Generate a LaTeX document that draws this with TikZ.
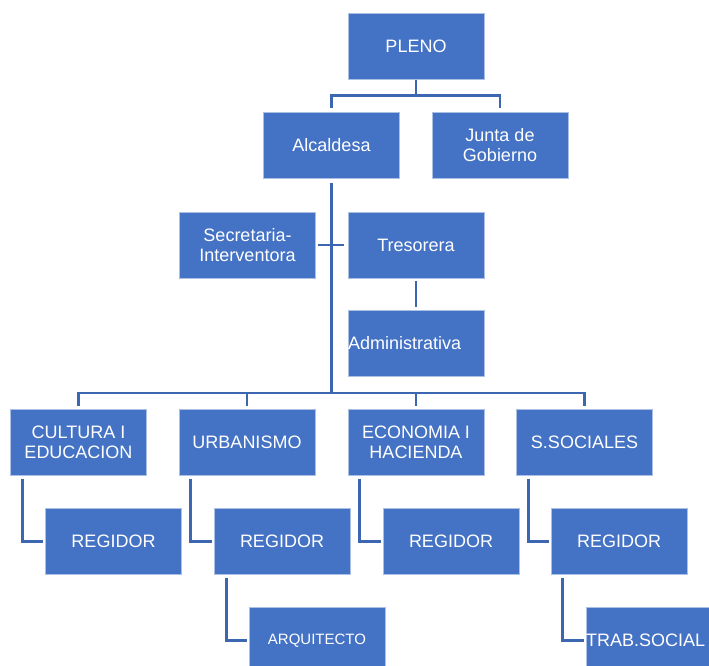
\documentclass[tikz,border=0pt]{standalone}
\usepackage{fontspec}
\setmainfont{Liberation Sans}
\definecolor{boxblue}{HTML}{4472C4}
\definecolor{linecol}{HTML}{3D66B2}
\tikzset{
  box/.style={fill=boxblue, draw=white!55!boxblue, line width=0.8pt, text=white,
    minimum width=136pt, minimum height=66pt, inner sep=1pt, align=center,
    font=\fontsize{18}{20}\selectfont},
  leftbox/.style={box, text width=136pt, inner xsep=0pt, align=left},
  conn/.style={draw=linecol, line width=2.8pt},
}
\begin{document}
\begin{tikzpicture}[x=1pt,y=-1pt]
\useasboundingbox (0,0) rectangle (709,666);
\clip (0,0) rectangle (709,666);
\fill[white] (0,0) rectangle (709,666);

\node[box] (pleno) at (416,46) {PLENO};
\node[box] (alc) at (331.5,145.5) {Alcaldesa};
\node[box] (junta) at (500,145.5) {Junta de\\Gobierno};
\node[box] (sec) at (247.5,245) {Secretaria-\\Interventora};
\node[box] (tres) at (416,245) {Tresorera};
\node[leftbox] (adm) at (416,343.5) {Administrativa};

\node[box] (cult) at (78.5,442.5) {CULTURA I\\EDUCACION};
\node[box] (urb) at (247,442.5) {URBANISMO};
\node[box] (eco) at (416,442.5) {ECONOMIA I\\HACIENDA};
\node[box] (soc) at (584.5,442.5) {S.SOCIALES};

\node[box] (r1) at (113.5,541.5) {REGIDOR};
\node[box] (r2) at (282,541.5) {REGIDOR};
\node[box] (r3) at (451,541.5) {REGIDOR};
\node[box] (r4) at (619,541.5) {REGIDOR};

\node[box, font=\fontsize{15}{18}\selectfont] (arq) at (317,640.5) {ARQUITECTO};
\node[leftbox] (trab) at (654,640.5) {TRAB.SOCIAL};

\coordinate (bus) at (331.5,393);

% PLENO to level 2
\draw[conn, shorten <=1pt, shorten >=4pt] (pleno.south) -- ++(0,16) -| (alc.north);
\draw[conn, shorten <=1pt, shorten >=4pt] (pleno.south) -- ++(0,16) -| (junta.north);

% trunk
\draw[conn, shorten <=4pt] (alc.south) -- (bus);
\draw[conn, shorten <=2pt, shorten >=4pt] (sec.east) -- (tres.west);
\draw[conn, shorten <=3pt, shorten >=3pt] (tres.south) -- (adm.north);

% bus to departments
\draw[conn, shorten >=3pt] (bus) -| (cult.north);
\draw[conn, shorten >=3pt] (bus) -| (urb.north);
\draw[conn, shorten >=3pt] (bus) -| (eco.north);
\draw[conn, shorten >=3pt] (bus) -| (soc.north);

% elbows
\draw[conn, shorten <=3pt, shorten >=2pt] ([xshift=12.5pt]cult.south west) |- (r1.west);
\draw[conn, shorten <=3pt, shorten >=2pt] ([xshift=12pt]urb.south west) |- (r2.west);
\draw[conn, shorten <=3pt, shorten >=2pt] ([xshift=12pt]eco.south west) |- (r3.west);
\draw[conn, shorten <=3pt, shorten >=2pt] ([xshift=12pt]soc.south west) |- (r4.west);
\draw[conn, shorten <=3pt, shorten >=2pt] ([xshift=13pt]r2.south west) |- (arq.west);
\draw[conn, shorten <=3pt, shorten >=2pt] ([xshift=12pt]r4.south west) |- (trab.west);
\end{tikzpicture}
\end{document}
